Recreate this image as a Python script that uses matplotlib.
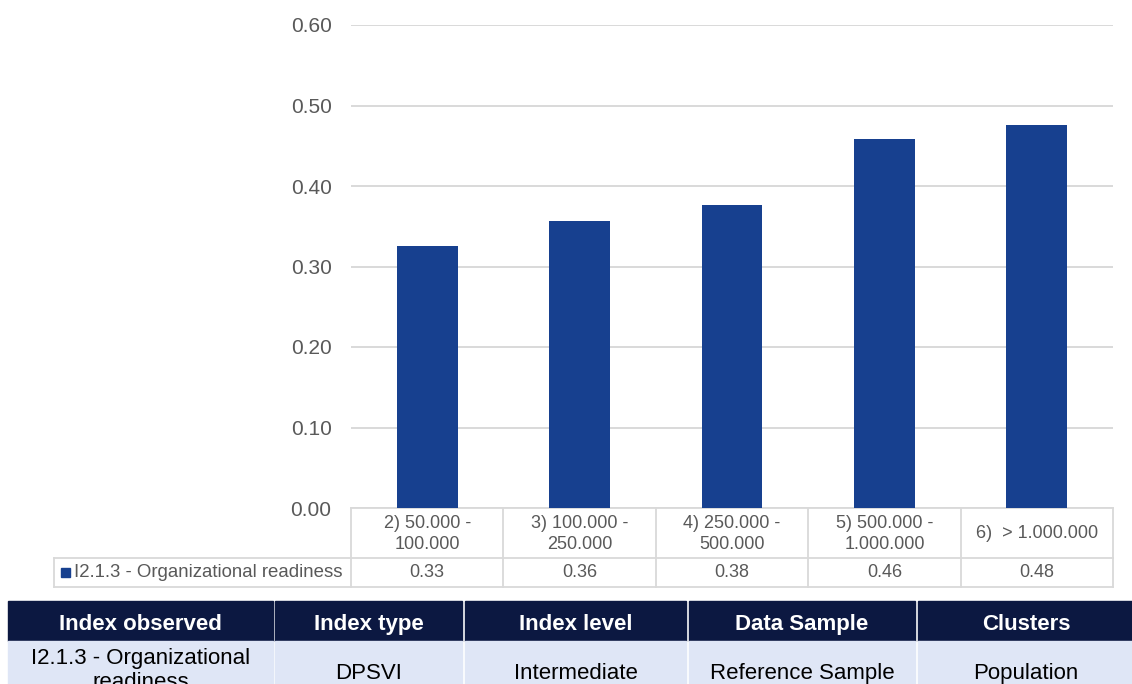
import matplotlib.pyplot as plt
from matplotlib.patches import Rectangle
from matplotlib.transforms import blended_transform_factory

plt.rcParams['font.family'] = ['Liberation Sans', 'DejaVu Sans']

# Organizational readiness by population cluster
categories = ["2) 50.000 -\n100.000", "3) 100.000 -\n250.000", "4) 250.000 -\n500.000",
              "5) 500.000 -\n1.000.000", "6)  > 1.000.000"]
values = [0.326, 0.356, 0.376, 0.459, 0.476]
series_name = "I2.1.3 - Organizational readiness"

# Info table under the chart
info_headers = ["Index observed", "Index type", "Index level", "Data Sample", "Clusters"]
info_row = ["I2.1.3 - Organizational\nreadiness", "DPSVI", "Intermediate", "Reference Sample", "Population"]

W, H = 1132, 684
bar_color = "#17408f"
grid_color = "#d9d9d9"
text_grey = "#595959"
navy = "#0c1841"
light_row = "#dfe6f6"

fig = plt.figure(figsize=(W / 100, H / 100), dpi=100)

# main bar chart, placed in pixel terms
left, right, top, bottom = 351, 1113, 25, 508
ax = fig.add_axes([left / W, (H - bottom) / H, (right - left) / W, (bottom - top) / H])
x = range(len(values))
ax.bar(x, values, width=0.4, color=bar_color, zorder=3)
ax.set_xlim(-0.5, len(values) - 0.5)
ax.set_ylim(0, 0.6)
ax.set_yticks([0, 0.1, 0.2, 0.3, 0.4, 0.5, 0.6])
ax.set_yticklabels([f"{t:.2f}" for t in ax.get_yticks()], fontsize=15, color=text_grey)
ax.tick_params(axis='y', length=0, pad=14)
ax.set_xticks([])
ax.grid(axis='y', color=grid_color, linewidth=1.4, zorder=0)
for s in ax.spines.values():
    s.set_visible(False)

# data table under the axis: category row + value row
row1, row2 = 50, 79  # pixel offsets below the axis bottom
ppu = (right - left) / len(values)  # pixels per category
tr = blended_transform_factory(ax.transData, ax.transAxes)
ph = bottom - top


def ay(px):
    return -px / ph


lw = 1.3
n = len(values)
leg_left = -0.5 - (left - 54) / ppu
# horizontal rules
ax.plot([-0.5, n - 0.5], [0, 0], transform=tr, color=grid_color, lw=lw, clip_on=False)
ax.plot([leg_left, n - 0.5], [ay(row1), ay(row1)], transform=tr, color=grid_color, lw=lw, clip_on=False)
ax.plot([leg_left, n - 0.5], [ay(row2), ay(row2)], transform=tr, color=grid_color, lw=lw, clip_on=False)
# vertical rules
for i in range(n + 1):
    ax.plot([i - 0.5, i - 0.5], [0, ay(row2)], transform=tr, color=grid_color, lw=lw, clip_on=False)
ax.plot([leg_left, leg_left], [ay(row1), ay(row2)], transform=tr, color=grid_color, lw=lw, clip_on=False)

for i, (cat, v) in enumerate(zip(categories, values)):
    ax.text(i, ay(row1 / 2 + 1), cat, transform=tr, ha='center', va='center', fontsize=13,
            color=text_grey, linespacing=1.25)
    ax.text(i, ay((row1 + row2) / 2), f"{v:.2f}", transform=tr, ha='center', va='center',
            fontsize=13, color=text_grey)

# legend key in the value row
sq = 9 / ppu
ax.add_patch(Rectangle((leg_left + 7 / ppu, ay(row1 + 19)), sq, 9 / ph, transform=tr,
                       color=bar_color, clip_on=False))
ax.text(leg_left + 20 / ppu, ay((row1 + row2) / 2), series_name, transform=tr, ha='left',
        va='center', fontsize=13.4, color=text_grey)

# info table in figure pixel coordinates
ov = fig.add_axes([0, 0, 1, 1])
ov.set_xlim(0, W)
ov.set_ylim(H, 0)
ov.axis('off')
col_edges = [(8, 273), (275, 462), (465, 686), (689, 915), (918, 1134)]
for (x0, x1), head, cell in zip(col_edges, info_headers, info_row):
    ov.add_patch(Rectangle((x0, 601), x1 - x0, 40, color=navy))
    ov.add_patch(Rectangle((x0, 641), x1 - x0, 62, color=light_row))
    ov.text((x0 + x1) / 2, 622, head, ha='center', va='center_baseline', fontsize=16,
            fontweight='bold', color='white')
    if "\n" in cell:
        # wrapped cell: one baseline per line, second line runs past the bottom edge
        for k, line in enumerate(cell.split("\n")):
            ov.text((x0 + x1) / 2, 664 + 24 * k, line, ha='center', va='baseline',
                    fontsize=16, color='black')
    else:
        ov.text((x0 + x1) / 2, 671, cell, ha='center', va='center_baseline', fontsize=16,
                color='black')

fig.savefig("out.png", dpi=100)
